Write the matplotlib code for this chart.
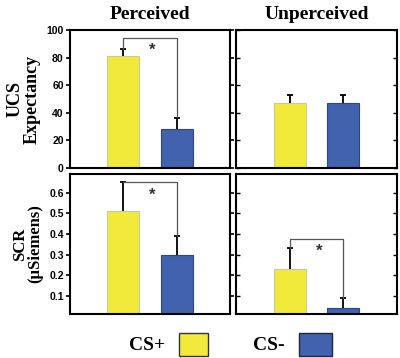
import matplotlib.pyplot as plt

# values
conditions = ["Perceived", "Unperceived"]
groups = ["CS+", "CS-"]
ucs_mean = [[81, 28], [47, 47]]
ucs_err = [[5, 8], [6, 6]]
scr_mean = [[0.51, 0.30], [0.23, 0.04]]
scr_err = [[0.14, 0.09], [0.10, 0.05]]
# significance brackets: (top of bracket, end over CS- bar)
ucs_sig = [(94, 37), None]
scr_sig = [(0.65, 0.39), (0.375, 0.09)]

yellow = "#F2EA3A"
blue = "#4262AE"
bar_colors = [yellow, blue]
edge_colors = ["#C8C8A0", "#2A4590"]

serif = ["Liberation Serif", "DejaVu Serif"]
sans = ["Liberation Sans", "DejaVu Sans"]

fig = plt.figure(figsize=(4.0, 3.58), dpi=100)

lefts = [0.175, 0.59]
widths = [0.4, 0.4025]
rows = [(0.5307, 0.3855), (0.1229, 0.391)]

xpos = [1, 2]


def draw_panel(ax, means, errs, sig, ylim, ticks, ticklabels, show_labels):
    ax.bar(xpos, means, width=0.6, color=bar_colors, edgecolor=edge_colors, linewidth=0.8, zorder=2)
    for x, m, e in zip(xpos, means, errs):
        _, caps, _ = ax.errorbar(x, m, yerr=[[0], [e]], fmt="none", ecolor="black",
                                 elinewidth=1.3, capsize=2.5, capthick=1.3, zorder=3)
        caps[0].set_visible(False)  # only the upper cap
    if sig is not None:
        top, end = sig
        ax.plot([xpos[0], xpos[0], xpos[1], xpos[1]],
                [means[0] + errs[0], top, top, end],
                color="#555555", lw=0.9, zorder=4)
        ax.text(1.55, top - 0.09 * (ylim[1] - ylim[0]), "*", ha="center", va="center",
                fontsize=12, family=sans, fontweight="bold", color="#333333")
    ax.set_xlim(0, 3)
    ax.set_ylim(*ylim)
    ax.set_xticks([])
    ax.set_yticks(ticks)
    for s in ax.spines.values():
        s.set_linewidth(1.5)
    if show_labels:
        ax.set_yticklabels(ticklabels, family=sans, fontweight="bold", fontsize=7.5)
        ax.tick_params(axis="y", direction="out", length=3, width=1.2, pad=1.5,
                       right=True)
    else:
        ax.set_yticklabels([])
        ax.tick_params(axis="y", direction="in", length=3, width=1.0,
                       left=True, right=True)


for c in range(2):
    ax = fig.add_axes([lefts[c], rows[0][0], widths[c], rows[0][1]])
    draw_panel(ax, ucs_mean[c], ucs_err[c], ucs_sig[c], (0, 100),
               [0, 20, 40, 60, 80, 100], ["0", "20", "40", "60", "80", "100"], c == 0)
    ax.set_title(conditions[c], family=serif, fontweight="bold", fontsize=14, pad=8)
    if c == 0:
        ax.set_ylabel("UCS\nExpectancy", family=serif, fontweight="bold", fontsize=13,
                      linespacing=1.0, labelpad=4)

    ax = fig.add_axes([lefts[c], rows[1][0], widths[c], rows[1][1]])
    draw_panel(ax, scr_mean[c], scr_err[c], scr_sig[c], (0.012, 0.69),
               [0.1, 0.2, 0.3, 0.4, 0.5, 0.6], ["0.1", "0.2", "0.3", "0.4", "0.5", "0.6"], c == 0)
    if c == 0:
        ax.set_ylabel("SCR\n(\u00b5Siemens)", family=serif, fontweight="bold", fontsize=12,
                      linespacing=1.0, labelpad=4)

# legend
fig.text(0.4125, 0.036, groups[0], family=serif, fontweight="bold", fontsize=14,
         ha="right", va="center")
fig.patches.append(plt.Rectangle((0.4475, 0.006), 0.0725, 0.064, transform=fig.transFigure,
                                 facecolor=yellow, edgecolor="#333333", lw=1.0))
fig.text(0.7125, 0.036, groups[1], family=serif, fontweight="bold", fontsize=14,
         ha="right", va="center")
fig.patches.append(plt.Rectangle((0.7475, 0.006), 0.0825, 0.064, transform=fig.transFigure,
                                 facecolor=blue, edgecolor="#222244", lw=1.0))

fig.savefig("out.png", dpi=100)
